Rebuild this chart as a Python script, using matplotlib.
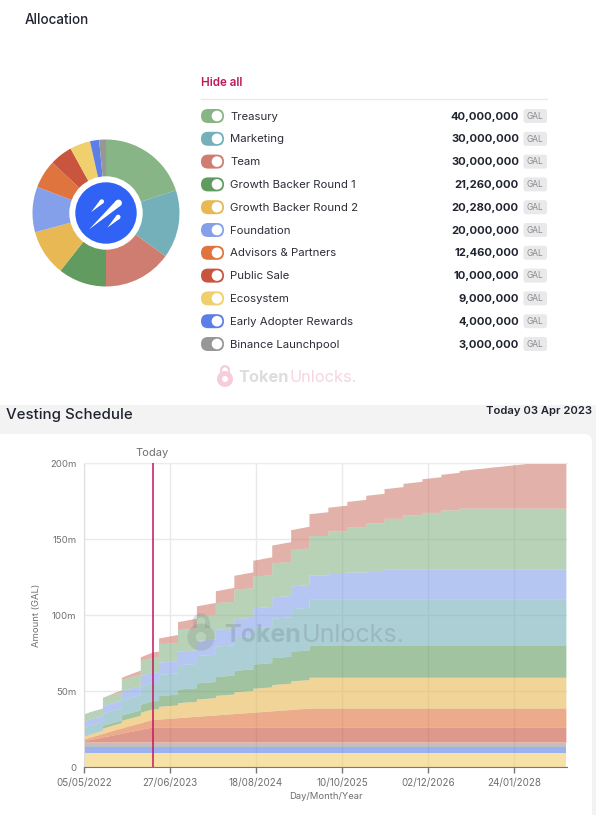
import numpy as np
import pandas as pd
import matplotlib
matplotlib.use("Agg")
import matplotlib.pyplot as plt
import matplotlib.dates as mdates
from matplotlib.patches import FancyBboxPatch, Circle, Polygon, Rectangle, Wedge

plt.rcParams['font.family'] = ['Inter', 'DejaVu Sans']

# ---------- data ----------
allocation_names = ["Treasury", "Marketing", "Team", "Growth Backer Round 1", "Growth Backer Round 2",
                    "Foundation", "Advisors & Partners", "Public Sale", "Ecosystem",
                    "Early Adopter Rewards", "Binance Launchpool"]
allocation_values = [40000000, 30000000, 30000000, 21260000, 20280000, 20000000,
                     12460000, 10000000, 9000000, 4000000, 3000000]
allocation_colors = ["#87b586", "#74b0ba", "#cf7d70", "#629b5f", "#e8b854", "#84a0ea",
                     "#e0743e", "#c9553f", "#f0cf6d", "#5b7fe6", "#979797"]

tick_labels = ["05/05/2022", "27/06/2023", "18/08/2024", "10/10/2025", "02/12/2026", "24/01/2028"]
y_ticks = [0, 50, 100, 150, 200]
y_tick_labels = ["0", "50m", "100m", "150m", "200m"]
today_label = "03/04/2023"

# monthly series, millions of GAL
ecosystem_m = [9.0] * 78
early_adopter_m = [4.0] * 78
binance_m = [3.0] * 78
public_sale_m = [0.8, 1.7, 2.5, 3.3, 4.2, 5.0, 5.8, 6.7, 7.5, 8.3, 9.2, 10.0, 10.0] + [10.0] * 65
advisors_m = [1.0, 1.6, 2.0, 2.4, 2.8, 3.2, 3.5, 3.8, 4.1, 4.4, 4.7, 5.0, 5.2, 5.5, 5.8, 6.1, 6.4, 6.7,
              7.0, 7.3, 7.6, 7.9, 8.2, 8.5, 8.8, 9.1, 9.4, 9.7, 10.0, 10.3, 10.6, 10.9, 11.2, 11.5,
              11.8, 12.1, 12.46, 12.46] + [12.46] * 40
team_m = [0, 0, 0, 0, 0.4, 0.9, 1.3, 1.7, 2.2, 2.6, 3.0, 3.5, 3.9, 4.3, 4.8, 5.2, 5.6, 6.1, 6.5, 6.9,
          7.4, 7.8, 8.2, 8.7, 9.1, 9.5, 10.0, 10.4, 10.8, 11.3, 11.7, 12.1, 12.6, 13.0, 13.4, 13.9,
          14.3, 14.7, 15.2, 15.6, 16.0, 16.5, 16.9, 17.3, 17.8, 18.2, 18.6, 19.1, 19.5, 19.9, 20.4,
          20.8, 21.2, 21.7, 22.1, 22.5, 23.0, 23.4, 23.8, 24.3, 24.7, 25.1, 25.6, 26.0, 26.4, 26.9,
          27.3, 27.7, 28.2, 28.6, 29.0, 29.5, 29.9, 30.0, 30.0, 30.0, 30.0, 30.0]
# quarterly-step series, millions of GAL
growth2_q = [2.0, 3.5, 5.0, 6.9, 8.4, 9.9, 11.4, 12.9, 14.3, 15.8, 17.3, 18.8, 20.28] + [20.28] * 13
growth1_q = [0, 1.8, 3.5, 5.3, 7.1, 8.9, 10.6, 12.4, 14.2, 15.9, 17.7, 19.5, 21.26] + [21.26] * 13
marketing_q = [6, 8, 10, 12, 14, 16, 18, 20, 22, 24, 26, 28, 30] + [30] * 13
foundation_q = [4, 5, 6, 7, 8, 9, 10, 11, 12, 13, 14, 15, 16, 17, 18, 19, 20] + [20] * 9
treasury_q = [4.8, 5.5, 7.6, 9.6, 12, 14.2, 16.2, 17.6, 19.4, 20.9, 22.4, 24, 26, 28, 29.5, 31.2,
              33.3, 35.5, 37.2, 38.8, 40] + [40] * 5

months = pd.date_range("2022-05-05", periods=78, freq=pd.DateOffset(months=1))
# every month appears twice, so that the quarterly series jump while the monthly ones run straight
dates = mdates.date2num(months).repeat(2)[1:-1]


def ramp(values):
    return np.asarray(values, float).repeat(2)[1:-1]


def steps(values):
    return np.asarray(values, float).repeat(3).repeat(2)[:-2]


layers = [
    (ramp(ecosystem_m), "#f0cf6d"), (ramp(early_adopter_m), "#5b7fe6"), (ramp(binance_m), "#979797"),
    (ramp(public_sale_m), "#c9553f"), (ramp(advisors_m), "#e0743e"),
    (steps(growth2_q), "#e8b854"), (steps(growth1_q), "#629b5f"),
    (steps(marketing_q), "#74b0ba"), (steps(foundation_q), "#84a0ea"),
    (steps(treasury_q), "#87b586"), (ramp(team_m), "#cf7d70"),
]

# ---------- figure ----------
W, H = 603, 821
fig = plt.figure(figsize=(W / 100, H / 100), dpi=100, facecolor="white")


def axes_px(l, t, r, b, **kw):
    return fig.add_axes([l / W, 1 - b / H, (r - l) / W, (b - t) / H], **kw)


bg = axes_px(0, 0, W, H, zorder=0)
bg.set_xlim(0, W); bg.set_ylim(H, 0); bg.axis("off")
ov = axes_px(0, 0, W, H, zorder=5)
ov.set_xlim(0, W); ov.set_ylim(H, 0); ov.axis("off"); ov.patch.set_alpha(0)

INK = "#1f2430"
CRIM = "#c2185b"

# backgrounds
bg.add_patch(Rectangle((0, 405), 596, 416, fc="#f3f3f3", ec="none"))
bg.add_patch(FancyBboxPatch((-20, 434), 612, 420, boxstyle="round,pad=0,rounding_size=8",
                            fc="white", ec="none"))
bg.add_patch(Rectangle((0, 815), 596, 6, fc="white", ec="none"))

# header texts
ov.text(25, 19.5, "Allocation", fontsize=9.7, color=INK, va="center", ha="left", fontweight=500)
ov.text(201, 83, "Hide all", fontsize=8.4, color=CRIM, va="center", ha="left", fontweight=600)
ov.plot([201, 547], [99.5, 99.5], color="#e9e9e9", lw=1)

# legend rows
row_y = np.linspace(116, 344, 11)
for y, name, val, col in zip(row_y, allocation_names, allocation_values, allocation_colors):
    ov.add_patch(FancyBboxPatch((201, y - 7), 23, 14, boxstyle="round,pad=0,rounding_size=7", fc=col, ec="none"))
    ov.add_patch(Circle((217, y), 5.3, fc="white", ec="none"))
    ov.text(230, y + 0.7, name, fontsize=8.2, color="#2c2f38", va="center", ha="left")
    ov.text(519, y + 0.7, f"{val:,}", fontsize=8.1, color=INK, va="center", ha="right", fontweight=700)
    ov.add_patch(FancyBboxPatch((523.5, y - 7), 23.5, 14, boxstyle="round,pad=0,rounding_size=2.5",
                                fc="#e9e9eb", ec="none"))
    ov.text(535.2, y + 0.3, "GAL", fontsize=6, color="#8a8a8a", va="center", ha="center")

# donut
pie_ax = axes_px(106 - 73.5, 213 - 73.5, 106 + 73.5, 213 + 73.5, zorder=2)
pie_ax.pie(allocation_values, colors=allocation_colors, startangle=90, counterclock=False,
           radius=1.0, wedgeprops=dict(linewidth=0))
pie_ax.set_xlim(-1, 1); pie_ax.set_ylim(-1, 1)

# logo
ov.add_patch(Circle((106, 213), 36.7, fc="white", ec="none"))
ov.add_patch(Circle((106, 213), 30.7, fc="#2f62f5", ec="none"))


def comet(tail, head, r):
    tail, head = np.array(tail, float), np.array(head, float)
    d = head - tail
    n = np.array([-d[1], d[0]]) / np.hypot(*d) * r
    ov.add_patch(Polygon([tail, head + n, head - n], fc="white", ec="none"))
    ov.add_patch(Circle(head, r, fc="white", ec="none"))


comet((89, 229.5), (118.5, 203), 3.4)
comet((91, 212.3), (101.8, 201.5), 2.2)
comet((107.3, 227.7), (118.2, 217), 2.3)


def lock(cx, cy, s, color, alpha):
    ov.add_patch(Wedge((cx, cy + 3 * s), 8 * s, 0, 360, width=5 * s, fc=color, ec="none", alpha=alpha))
    ov.add_patch(Wedge((cx, cy - 6 * s), 5 * s, 180, 360, width=2.4 * s, fc=color, ec="none", alpha=alpha))
    ov.add_patch(Rectangle((cx - 5 * s, cy - 6 * s), 2.4 * s, 3.5 * s, fc=color, ec="none", alpha=alpha))
    ov.add_patch(Rectangle((cx + 2.6 * s, cy - 6 * s), 2.4 * s, 3.5 * s, fc=color, ec="none", alpha=alpha))


def watermark(x, y, fs, c1, c2, alpha):
    r = fig.canvas.get_renderer()
    t = ov.text(x, y, "Token", fontsize=fs, color=c1, alpha=alpha, va="center", ha="left", fontweight=700)
    w = t.get_window_extent(r).width
    ov.text(x + w + fs * 0.05, y, "Unlocks.", fontsize=fs, color=c2, alpha=alpha, va="center", ha="left")


lock(225, 376, 1.0, "#f7cdd9", 1.0)
watermark(238, 377.5, 11.8, "#dddde0", "#f7d5e0", 1.0)

# section header
ov.text(6, 415, "Vesting Schedule", fontsize=10.8, color=INK, va="center", ha="left", fontweight=500)
ov.text(592, 411, "Today 03 Apr 2023", fontsize=8.1, color=INK, va="center", ha="right", fontweight=600)

# vesting chart
ax = axes_px(84, 463, 567, 767, zorder=3)
ax.patch.set_alpha(0)
ax.stackplot(dates, *[l[0] for l in layers], colors=[l[1] for l in layers], alpha=0.6,
             linewidth=0, zorder=2)
ax.set_ylim(0, 200)
ax.set_xlim(mdates.date2num(pd.Timestamp("2022-05-05")), mdates.date2num(pd.Timestamp("2028-10-08")))
tick_dates = pd.to_datetime(tick_labels, dayfirst=True)
ax.set_xticks(mdates.date2num(tick_dates))
ax.set_xticklabels(tick_labels, fontsize=7.1, color="#6f6f6f")
ax.set_yticks(y_ticks)
ax.set_yticklabels(y_tick_labels, fontsize=6.9, color="#6f6f6f")
ax.grid(True, color="#e9e9e9", lw=1, zorder=1)
ax.set_axisbelow(True)
ax.tick_params(axis="x", length=4.2, width=1, color="#777777", pad=4)
ax.tick_params(axis="y", length=0, pad=5.5)
ax.spines["right"].set_visible(False)
ax.spines["top"].set_color("#ececec")
ax.spines["left"].set_color("#dddddd")
ax.spines["bottom"].set_color("#777777")
ax.axvline(mdates.date2num(pd.to_datetime(today_label, dayfirst=True)), color=CRIM, lw=1.1, zorder=4)

ov.text(152.5, 452.5, "Today", fontsize=8, color="#6f6f6f", va="center", ha="center")
ov.text(36, 615, "Amount (GAL)", fontsize=6.8, color="#6f6f6f", va="center", ha="center", rotation=90)
ov.text(325.5, 796.5, "Day/Month/Year", fontsize=6.8, color="#6f6f6f", va="center", ha="center")

# chart watermark
lock(201, 632, 1.7, "#7f8a86", 0.25)
watermark(224, 635.5, 18, "#76838f", "#76838f", 0.3)

fig.savefig("out.png", dpi=100, facecolor="white")
